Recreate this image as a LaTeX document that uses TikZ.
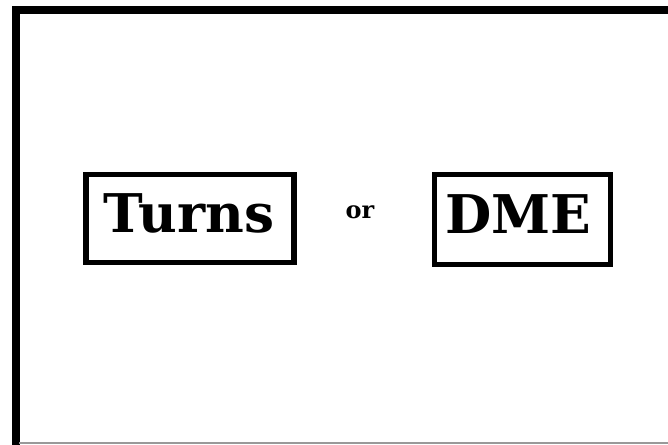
\documentclass[tikz,border=0pt]{standalone}
\usepackage{fontspec}
\setmainfont{DejaVu Serif}
\begin{document}
\begin{tikzpicture}[x=0.75pt,y=-0.75pt,
  framebox/.style={draw=black,line width=4pt,minimum width=156pt,minimum height=66pt,inner sep=0pt},
  bigword/.style={font=\bfseries\fontsize{40}{40}\selectfont,inner sep=0pt,anchor=base},
  smallword/.style={font=\bfseries\fontsize{18}{18}\selectfont,inner sep=0pt,anchor=base}]
\useasboundingbox (0,0) rectangle (668,444);
\clip (0,0) rectangle (668,444);
\draw[line width=6pt] (15.5,10) rectangle (720,480);
\draw[black!40,line width=1.2pt] (19,443) -- (668,443);
\node[framebox] (turnsbox) at (190,218.5) {};
\node[framebox,minimum width=132pt,minimum height=67.5pt] (dmebox) at (522.5,219.5) {};
\node[bigword] (turns) at (189,232) {Turns};
\node[bigword] (dme) at (518,233) {DME};
\node[smallword] (or) at (360,218) {or};
\end{tikzpicture}
\end{document}
